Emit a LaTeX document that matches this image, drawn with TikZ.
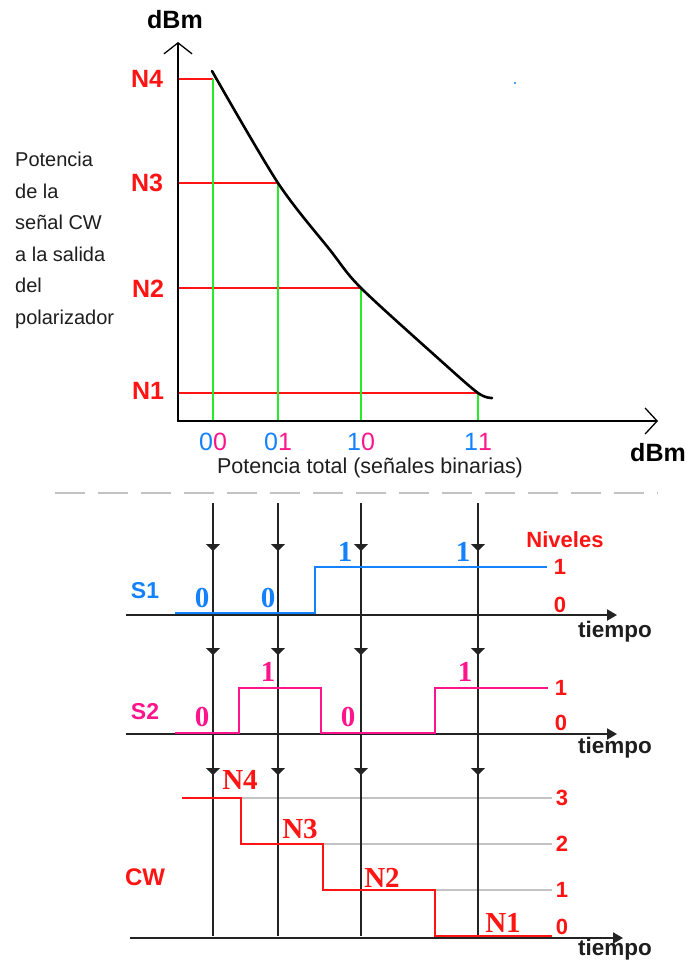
\documentclass[tikz,border=0pt]{standalone}
\usepackage{fontspec}
\setmainfont{Liberation Sans}
\newfontfamily\tms{Liberation Serif}
\usetikzlibrary{arrows.meta}
\definecolor{cred}{RGB}{255,20,20}
\definecolor{cgreen}{RGB}{40,235,40}
\definecolor{cblue}{RGB}{20,130,255}
\definecolor{cpink}{RGB}{255,20,140}
\definecolor{cgray}{RGB}{195,195,195}
\definecolor{cdark}{RGB}{35,35,35}
\definecolor{ctext}{RGB}{30,30,30}
\begin{document}
\begin{tikzpicture}[x=1pt,y=-1pt,
  lbl/.style={inner sep=0pt, anchor=center},
  axis/.style={black, line width=2pt},
  redl/.style={cred, line width=2.2pt},
  greenl/.style={cgreen, line width=1.4pt},
  vline/.style={cdark, line width=1.6pt},
  downtip/.style={cdark, line width=1.6pt, -{Triangle[length=7pt,width=14pt]}},
  taxis/.style={cdark, line width=2pt, -{Triangle[length=10pt,width=11pt]}},
  nlab/.style={lbl, text=cred, font=\bfseries\fontsize{25}{25}\selectfont},
  serifb/.style={lbl, font=\tms\bfseries\fontsize{29}{29}\selectfont},
  lev/.style={lbl, text=cred, font=\bfseries\fontsize{22}{22}\selectfont},
  tiem/.style={lbl, text=ctext, font=\bfseries\fontsize{22.5}{22.5}\selectfont},
  bits/.style={lbl, font=\fontsize{25}{25}\selectfont},
]
\useasboundingbox[fill=white] (0,0) rectangle (688,962);

% ---------- top chart ----------
\draw[redl] (178,79) -- (213,79);
\draw[redl] (178,183) -- (278,183);
\draw[redl] (178,288) -- (361,288);
\draw[redl] (178,393) -- (478,393);
\draw[greenl] (213,79) -- (213,421);
\draw[greenl] (278,183) -- (278,421);
\draw[greenl] (361,288) -- (361,421);
\draw[greenl] (478,393) -- (478,421);
\draw[axis, {Straight Barb[length=11pt,width=28pt,line width=1.3pt]}-{Straight Barb[length=12pt,width=26pt,line width=1.3pt]}]
  (178,42) -- (178,421) -- (658,421);
\draw[black, line width=2.6pt, line cap=round] plot[smooth, tension=0.5] coordinates
  {(212,71) (278,183) (330,250) (361,288) (440,360) (478,393) (492,398)};

\node[lbl, font=\bfseries\fontsize{25}{25}\selectfont] (ylab) at (175,20) {dBm};
\node[lbl, font=\bfseries\fontsize{25}{25}\selectfont] (xlab) at (658,453) {dBm};
\node[nlab] (n4) at (147,79) {N4};
\node[nlab] (n3) at (147,183) {N3};
\node[nlab] (n2) at (148,289) {N2};
\node[nlab] (n1) at (148,391) {N1};

\node[bits] (b00) at (213,442) {\textcolor{cblue}{0}\textcolor{cpink}{0}};
\node[bits] (b01) at (278,442) {\textcolor{cblue}{0}\textcolor{cpink}{1}};
\node[bits] (b10) at (361,442) {\textcolor{cblue}{1}\textcolor{cpink}{0}};
\node[bits] (b11) at (478,442) {\textcolor{cblue}{1}\textcolor{cpink}{1}};
\node[lbl, text=ctext, font=\fontsize{21.5}{21.5}\selectfont] (xdesc) at (370,468) {Potencia total (señales binarias)};

\node[inner sep=0pt, anchor=north west, text=ctext, align=left,
  font=\fontsize{20}{31.5}\selectfont] (ydesc) at (15,152)
  {Potencia\\de la\\señal CW\\a la salida\\del\\polarizador};

\fill[cblue] (515,83) circle (1.2pt);

% ---------- separator ----------
\draw[cgray, line width=1.6pt, dash pattern=on 30pt off 13pt] (55,493) -- (658,493);

% ---------- level lines for CW ----------
\draw[cgray, line width=1.5pt] (182,798) -- (552,798);
\draw[cgray, line width=1.5pt] (241,844) -- (552,844);
\draw[cgray, line width=1.5pt] (323,890) -- (552,890);

% ---------- vertical sample lines ----------
\foreach \x in {213,278,361,478} {
  \draw[vline] (\x,503) -- (\x,936);
  \foreach \y in {551,655,775} {
    \draw[downtip] (\x,\y-12) -- (\x,\y);
  }
}

% ---------- time axes ----------
\draw[taxis] (126,615) -- (617,615);
\draw[taxis] (126,734) -- (617,734);
\draw[taxis] (130,938) -- (623,938);

% ---------- S1 ----------
\draw[cblue, line width=1.8pt] (175,613) -- (315,613) -- (315,567) -- (547,567);
% ---------- S2 ----------
\draw[cpink, line width=1.8pt] (175,733) -- (239,733) -- (239,688) -- (321,688) -- (321,733)
  -- (435,733) -- (435,688) -- (548,688);
% ---------- CW ----------
\draw[cred, line width=1.8pt] (182,798) -- (241,798) -- (241,844) -- (323,844) -- (323,890)
  -- (435,890) -- (435,936) -- (552,936);

% ---------- labels bottom ----------
\node[lbl, text=cblue, font=\bfseries\fontsize{23}{23}\selectfont] (s1) at (145,591) {S1};
\node[lbl, text=cpink, font=\bfseries\fontsize{23}{23}\selectfont] (s2) at (145,712) {S2};
\node[lbl, text=cred, font=\bfseries\fontsize{24}{24}\selectfont] (cw) at (145,877) {CW};

\node[serifb, text=cblue] (s1a) at (202,598) {0};
\node[serifb, text=cblue] (s1b) at (268,598) {0};
\node[serifb, text=cblue] (s1c) at (345,552) {1};
\node[serifb, text=cblue] (s1d) at (463,552) {1};

\node[serifb, text=cpink] (s2a) at (202,717) {0};
\node[serifb, text=cpink] (s2b) at (268,672) {1};
\node[serifb, text=cpink] (s2c) at (348,717) {0};
\node[serifb, text=cpink] (s2d) at (465,672) {1};

\node[serifb, text=cred] (cwa) at (240,780) {N4};
\node[serifb, text=cred] (cwb) at (300,829) {N3};
\node[serifb, text=cred] (cwc) at (382,878) {N2};
\node[serifb, text=cred] (cwd) at (503,923) {N1};

\node[lbl, text=cred, font=\bfseries\fontsize{22}{22}\selectfont] (niv) at (565,540) {Niveles};
\node[lev] (l11) at (560,567) {1};
\node[lev] (l10) at (560,605) {0};
\node[lev] (l21) at (561,688) {1};
\node[lev] (l20) at (561,723) {0};
\node[lev] (l33) at (562,798) {3};
\node[lev] (l32) at (562,844) {2};
\node[lev] (l31) at (562,890) {1};
\node[lev] (l30) at (562,927) {0};

\node[tiem] (t1) at (615,632) {tiempo};
\node[tiem] (t2) at (615,748) {tiempo};
\node[tiem] (t3) at (615,950) {tiempo};
\end{tikzpicture}
\end{document}
